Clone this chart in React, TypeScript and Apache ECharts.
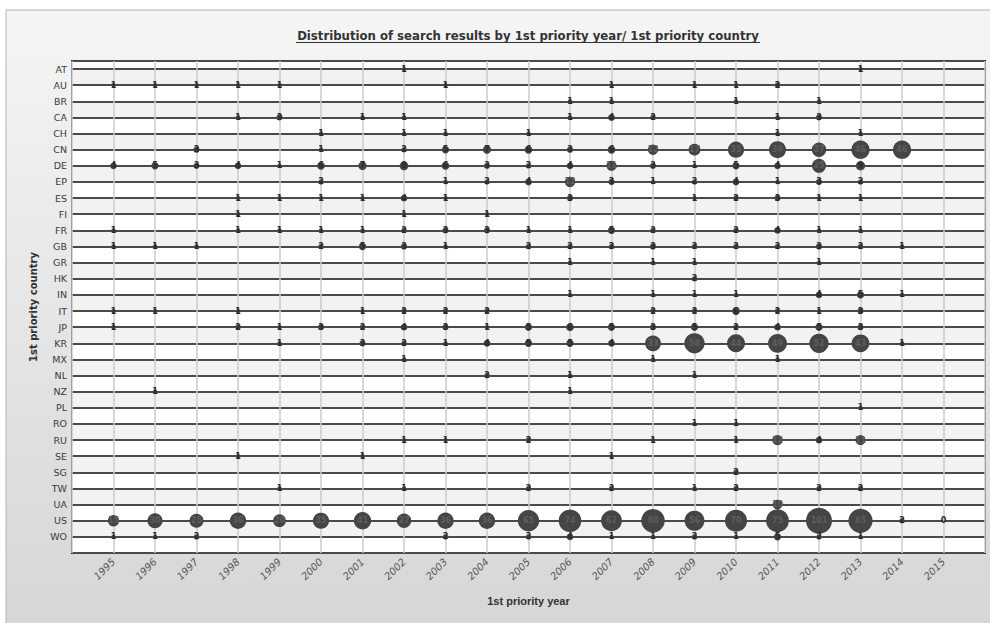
import React, { useEffect, useRef } from 'react';
import * as echarts from 'echarts';

const years = [1995, 1996, 1997, 1998, 1999, 2000, 2001, 2002, 2003, 2004, 2005, 2006, 2007, 2008, 2009, 2010, 2011, 2012, 2013, 2014, 2015];
const countries = ['AT', 'AU', 'BR', 'CA', 'CH', 'CN', 'DE', 'EP', 'ES', 'FI', 'FR', 'GB', 'GR', 'HK', 'IN', 'IT', 'JP', 'KR', 'MX', 'NL', 'NZ', 'PL', 'RO', 'RU', 'SE', 'SG', 'TW', 'UA', 'US', 'WO'];

const _ = null;
//          95 96 97 98 99 00 01 02 03 04 05 06 07 08 09 10 11 12 13 14 15
const AT = [_, _, _, _, _, _, _, 1, _, _, _, _, _, _, _, _, _, _, 1, _, _];
const AU = [1, 1, 1, 1, 1, _, _, _, 1, _, _, _, 1, _, 1, 1, 2, _, _, _, _];
const BR = [_, _, _, _, _, _, _, _, _, _, _, 1, 1, _, _, 1, _, 1, _, _, _];
const CA = [_, _, _, 1, 3, _, 1, 1, _, _, _, 1, 4, 2, _, _, 1, 3, _, _, _];
const CH = [_, _, _, _, _, 1, _, 1, 1, _, 1, _, _, _, _, _, 1, _, 1, _, _];
const CN = [_, _, 3, _, _, 1, _, 2, 5, 7, 6, 3, 6, 12, 17, 35, 39, 27, 46, 46, _];
const DE = [4, 5, 3, 4, 1, 6, 7, 8, 6, 3, 2, 4, 11, 3, 1, 5, 4, 25, 9, _, _];
const EP = [_, _, _, _, _, 2, _, _, 1, 2, 4, 12, 3, 1, 2, 4, 1, 3, 2, _, _];
const ES = [_, _, _, 1, 1, 1, 1, 4, 1, _, _, 3, _, _, 1, 2, 3, 1, 1, _, _];
const FI = [_, _, _, 1, _, _, _, 1, _, 1, _, _, _, _, _, _, _, _, _, _, _];
const FR = [1, _, _, 1, 1, 1, 1, 2, 3, 3, 1, 1, 5, 2, _, 2, 4, 1, 1, _, _];
const GB = [1, 1, 1, _, _, 2, 5, 3, 1, _, 2, 2, 2, 3, 2, 2, 2, 3, 2, 1, _];
const GR = [_, _, _, _, _, _, _, _, _, _, _, 1, _, 1, 1, _, _, 1, _, _, _];
const HK = [_, _, _, _, _, _, _, _, _, _, _, _, _, _, 2, _, _, _, _, _, _];
const IN = [_, _, _, _, _, _, _, _, _, _, _, 1, _, 1, 1, 1, _, 4, 5, 1, _];
const IT = [1, 1, _, 1, _, _, 1, 2, 2, 2, _, _, _, 2, 2, 6, 2, 1, 3, _, _];
const JP = [1, _, _, 2, 1, 3, 2, 4, 3, 1, 5, 6, 5, 3, 5, 2, 4, 5, 3, _, _];
const KR = [_, _, _, _, 1, _, 3, 2, 1, 4, 5, 5, 4, 33, 58, 44, 49, 52, 43, 1, _];
const MX = [_, _, _, _, _, _, _, 1, _, _, _, _, _, 1, _, _, 1, _, _, _, _];
const NL = [_, _, _, _, _, _, _, _, _, 2, _, 1, _, _, 1, _, _, _, _, _, _];
const NZ = [_, 1, _, _, _, _, _, _, _, _, _, 1, _, _, _, _, _, _, _, _, _];
const PL = [_, _, _, _, _, _, _, _, _, _, _, _, _, _, _, _, _, _, 1, _, _];
const RO = [_, _, _, _, _, _, _, _, _, _, _, _, _, _, 1, 1, _, _, _, _, _];
const RU = [_, _, _, _, _, _, _, 1, 1, _, 2, _, _, 1, _, 1, 12, 4, 11, _, _];
const SE = [_, _, _, 1, _, _, 1, _, _, _, _, _, 1, _, _, _, _, _, _, _, _];
const SG = [_, _, _, _, _, _, _, _, _, _, _, _, _, _, _, 2, _, _, _, _, _];
const TW = [_, _, _, _, 1, _, _, 1, _, _, 2, _, 2, _, 1, 2, _, 2, 2, _, _];
const UA = [_, _, _, _, _, _, _, _, _, _, _, _, _, _, _, _, 10, _, _, _, _];
const US = [15, 30, 25, 36, 20, 35, 41, 27, 36, 36, 65, 74, 62, 80, 56, 70, 75, 101, 85, 2, 0];
const WO = [1, 1, 2, _, _, _, _, _, 2, _, 2, 4, 1, 1, 2, 1, 5, 2, 1, _, _];

const rows = [AT, AU, BR, CA, CH, CN, DE, EP, ES, FI, FR, GB, GR, HK, IN, IT, JP, KR, MX, NL, NZ, PL, RO, RU, SE, SG, TW, UA, US, WO];

const titleText = 'Distribution of search results by 1st priority year/ 1st priority country';

export default function App() {
  const ref = useRef<HTMLDivElement>(null);
  useEffect(() => {
    if (!ref.current) return;
    const chart = echarts.init(ref.current, null, { renderer: 'svg' });
    const n = countries.length;
    const data: any[] = [];
    rows.forEach((row, ci) => {
      row.forEach((v, yi) => {
        if (v !== null && v !== undefined) {
          data.push({
            value: [years[yi], n - 1 - ci, v],
            label: { color: v >= 10 ? '#5e5e5e' : '#2a2a2a' },
          });
        }
      });
    });
    chart.setOption({
      animation: false,
      graphic: [
        {
          type: 'rect',
          z: -100,
          silent: true,
          shape: { x: 6, y: 10, width: 990, height: 620 },
          style: {
            fill: new echarts.graphic.LinearGradient(0, 0, 0, 1, [
              { offset: 0, color: '#f5f5f5' },
              { offset: 1, color: '#d6d6d6' },
            ]),
            stroke: '#b4b4b4',
            lineWidth: 1,
          },
        },
        {
          type: 'text',
          x: 528,
          y: 35,
          style: {
            text: titleText,
            textAlign: 'center',
            textVerticalAlign: 'middle',
            font: 'bold 13px "Liberation Sans Narrow", "DejaVu Sans Condensed", sans-serif',
            fill: '#333',
          },
        },
        {
          type: 'line',
          shape: { x1: 296, y1: 42.5, x2: 760, y2: 42.5 },
          style: { stroke: '#333', lineWidth: 1 },
        },
      ],
      grid: {
        left: 72,
        right: 5,
        top: 61,
        bottom: 70,
        show: true,
        borderColor: '#1e1e1e',
        borderWidth: 2,
        backgroundColor: 'transparent',
      },
      xAxis: {
        type: 'value',
        min: 1994,
        max: 2016,
        interval: 1,
        axisLine: { show: false },
        axisTick: { show: false },
        splitLine: { show: true, lineStyle: { color: '#cbcbcb', width: 1.5 } },
        axisLabel: {
          rotate: 45,
          margin: 7,
          fontSize: 10,
          fontStyle: 'italic',
          fontFamily: 'DejaVu Sans',
          color: '#555',
          formatter: (v: number) => (v >= 1995 && v <= 2015 ? String(v) : ''),
        },
        name: '1st priority year',
        nameLocation: 'middle',
        nameGap: 42,
        nameTextStyle: {
          fontWeight: 'bold',
          fontSize: 11,
          fontFamily: '"Liberation Sans Narrow", sans-serif',
          color: '#333',
        },
      },
      yAxis: {
        type: 'value',
        min: -1,
        max: 29.5,
        interval: 1,
        axisLine: { show: false },
        axisTick: { show: false },
        splitLine: { show: true, lineStyle: { color: '#4a4a4a', width: 2 } },
        splitArea: { show: true, areaStyle: { color: ['#ffffff', '#f2f2f2'] } },
        axisLabel: {
          margin: 5,
          fontSize: 9.5,
          fontFamily: 'DejaVu Sans',
          color: '#3a3a3a',
          formatter: (v: number) => (Number.isInteger(v) && v >= 0 && v < n ? countries[n - 1 - v] : ''),
        },
        name: '1st priority country',
        nameLocation: 'middle',
        nameGap: 34,
        nameRotate: 90,
        nameTextStyle: {
          fontWeight: 'bold',
          fontSize: 10,
          fontFamily: 'DejaVu Sans',
          color: '#333',
        },
      },
      series: [
        {
          type: 'scatter',
          data,
          symbolSize: (val: number[]) => (val[2] === 0 ? 0 : 2 + 2.4 * Math.sqrt(val[2])),
          itemStyle: { color: '#454545', opacity: 1 },
          label: {
            show: true,
            position: 'inside',
            fontSize: 8,
            fontWeight: 'bold',
            fontFamily: 'DejaVu Sans',
            formatter: (p: any) => String(p.value[2]),
          },
          emphasis: { disabled: true },
        },
      ],
    });
    return () => chart.dispose();
  }, []);
  return <div ref={ref} style={{ position: 'absolute', left: 0, top: 0, width: 990, height: 623 }} />;
}
